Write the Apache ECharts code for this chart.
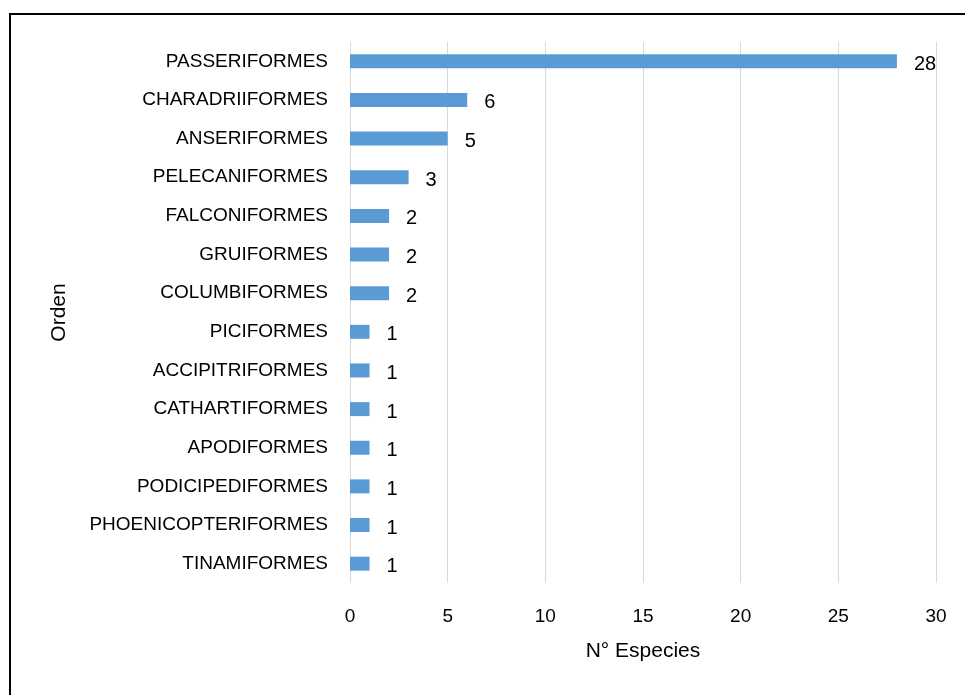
<!DOCTYPE html>
<html>
<head>
<meta charset="utf-8">
<script src="https://cdn.jsdelivr.net/npm/echarts@6/dist/echarts.min.js"></script>
<style>
  html, body { margin: 0; padding: 0; background: #fff; }
  #chart { width: 965px; height: 695px; }
  .frame {
    position: absolute;
    left: 9px;
    top: 13px;
    width: 1000px;
    height: 720px;
    border-left: 2px solid #000;
    border-top: 2px solid #000;
    pointer-events: none;
  }
</style>
</head>
<body>
<div id="chart"></div>
<div class="frame"></div>
<script>
// ordenes, de abajo hacia arriba
const ordenes = [
  'TINAMIFORMES', 'PHOENICOPTERIFORMES', 'PODICIPEDIFORMES', 'APODIFORMES',
  'CATHARTIFORMES', 'ACCIPITRIFORMES', 'PICIFORMES', 'COLUMBIFORMES',
  'GRUIFORMES', 'FALCONIFORMES', 'PELECANIFORMES', 'ANSERIFORMES',
  'CHARADRIIFORMES', 'PASSERIFORMES'
]
const especies = [1, 1, 1, 1, 1, 1, 1, 2, 2, 2, 3, 5, 6, 28]
const xTicks = [0, 5, 10, 15, 20, 25, 30]

const font = 'Liberation Sans, Arial, sans-serif'
const chart = echarts.init(document.getElementById('chart'), null, {renderer: 'canvas'})
chart.setOption({
  animation: false,
  grid: {
    left: 350,
    right: 29,
    top: 42,
    bottom: 112,
    containLabel: false
  },
  xAxis: {
    type: 'value',
    min: xTicks[0],
    max: xTicks[xTicks.length - 1],
    interval: xTicks[1] - xTicks[0],
    name: 'N° Especies',
    nameLocation: 'middle',
    nameGap: 58,
    nameTextStyle: {color: '#000', fontSize: 21, fontFamily: font},
    axisLine: {show: false},
    axisTick: {show: false},
    axisLabel: {color: '#000', fontSize: 19, fontFamily: font, margin: 24},
    splitLine: {lineStyle: {color: '#d9d9d9', width: 1}}
  },
  yAxis: {
    type: 'category',
    data: ordenes,
    name: 'Orden',
    nameLocation: 'middle',
    nameGap: 280,
    nameRotate: 90,
    nameTextStyle: {color: '#000', fontSize: 21, fontFamily: font},
    axisLine: {show: false},
    axisTick: {show: false},
    axisLabel: {color: '#000', fontSize: 19, fontFamily: font, margin: 22, padding: [4, 0, 0, 0]},
    splitLine: {show: false}
  },
  series: [{
    type: 'bar',
    data: especies,
    barWidth: 14,
    itemStyle: {color: '#5b9bd5'},
    label: {
      show: true,
      position: 'right',
      distance: 17,
      color: '#000',
      fontSize: 20,
      fontFamily: font,
      offset: [0, 3]
    }
  }]
})
</script>
</body>
</html>
